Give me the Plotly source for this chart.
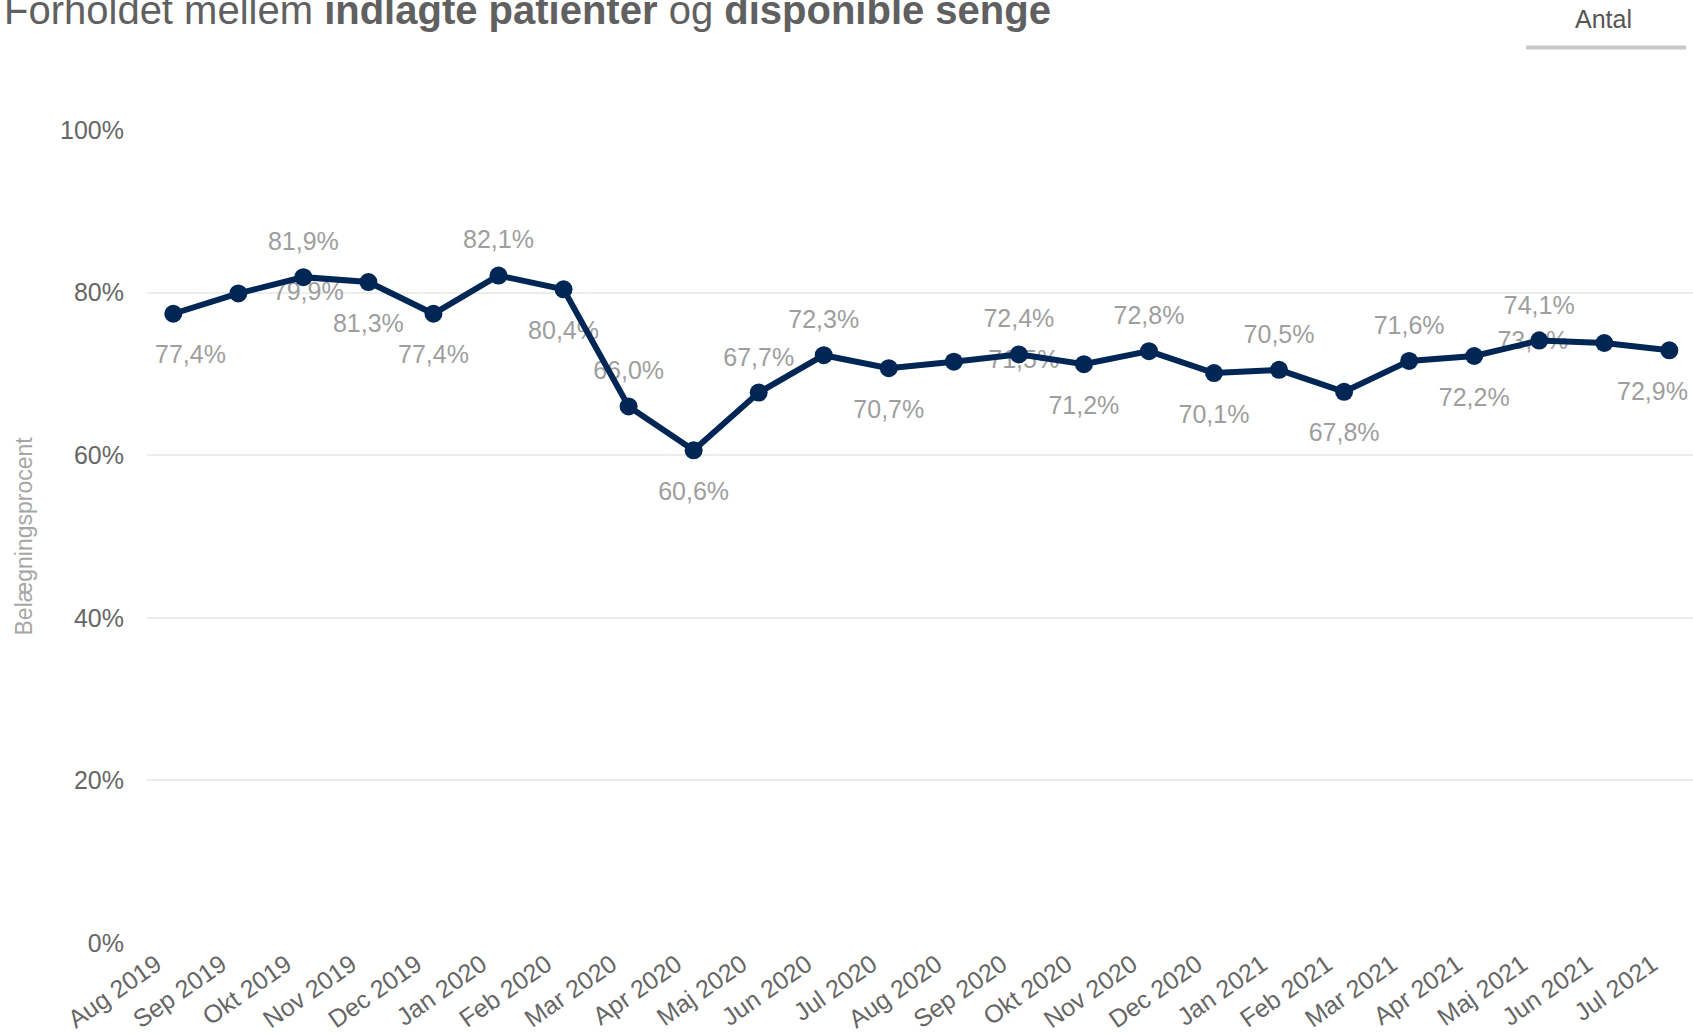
import plotly.graph_objects as go

LINE_COLOUR = '#002655'
LABEL_COLOUR = '#9e9e9e'
TICK_COLOUR = '#666666'
GRID_COLOUR = '#ececec'
FONT = 'Liberation Sans, Arial, sans-serif'

# Data
MONTHS = ["Aug 2019", "Sep 2019", "Okt 2019", "Nov 2019", "Dec 2019", "Jan 2020",
          "Feb 2020", "Mar 2020", "Apr 2020", "Maj 2020", "Jun 2020", "Jul 2020",
          "Aug 2020", "Sep 2020", "Okt 2020", "Nov 2020", "Dec 2020", "Jan 2021",
          "Feb 2021", "Mar 2021", "Apr 2021", "Maj 2021", "Jun 2021", "Jul 2021"]
OCCUPANCY = [77.4, 79.9, 81.9, 81.3, 77.4, 82.1, 80.4, 66.0, 60.6, 67.7, 72.3, 70.7,
             71.5, 72.4, 71.2, 72.8, 70.1, 70.5, 67.8, 71.6, 72.2, 74.1, 73.8, 72.9]
Y_TICKS = [0, 20, 40, 60, 80, 100]
Y_TICK_TEXT = ["0%", "20%", "40%", "60%", "80%", "100%"]

# where each data label sits relative to its point (layout only)
LABEL_SIDE = ["edge", "right", "top", "bottom", "bottom", "top", "bottom", "top",
              "bottom", "top", "top", "bottom", "right", "top", "bottom", "top",
              "bottom", "top", "bottom", "top", "bottom", "top", "left", "edge"]
SIDE_POSITION = {"top": "top center", "bottom": "bottom center",
                 "right": "middle right", "left": "middle left", "edge": "bottom center"}
SIDE_SIZE = {"top": 31.7, "bottom": 47.6, "right": 53.6, "left": 56, "edge": 0}


def fmt(v):
    return f"{v:.1f}%".replace('.', ',')


labels = [fmt(v) if s != "edge" else "" for v, s in zip(OCCUPANCY, LABEL_SIDE)]
# trailing spaces pull the rotated month labels a bit left of their tick
x_tick_text = [m + "\u00a0\u00a0\u00a0" for m in MONTHS]

fig = go.Figure()

# labels first so the line is drawn over them
fig.add_trace(go.Scatter(
    x=MONTHS, y=OCCUPANCY, mode='markers+text', text=labels,
    textposition=[SIDE_POSITION[s] for s in LABEL_SIDE],
    textfont={"size": 25, "color": LABEL_COLOUR, "family": FONT},
    marker={"size": [SIDE_SIZE[s] for s in LABEL_SIDE], "color": 'rgba(0,0,0,0)'},
    cliponaxis=False, hoverinfo='skip', showlegend=False))

fig.add_trace(go.Scatter(
    x=MONTHS, y=OCCUPANCY, mode='lines+markers',
    line={"color": LINE_COLOUR, "width": 6},
    marker={"size": 18, "color": LINE_COLOUR},
    cliponaxis=False, showlegend=False))

# first and last label get nudged inwards
for i, shift in [(0, 17), (len(MONTHS) - 1, -17)]:
    fig.add_annotation(x=MONTHS[i], y=OCCUPANCY[i], text=fmt(OCCUPANCY[i]),
                       showarrow=False, xshift=shift, yshift=-40.5, yanchor='middle',
                       font={"size": 25, "color": LABEL_COLOUR, "family": FONT})

# title (partly above the page edge, as in the original)
fig.add_annotation(xref='paper', yref='paper', x=0, y=1, xshift=-145, yshift=95.5,
                   xanchor='left', yanchor='bottom', showarrow=False,
                   text="Forholdet mellem <b>indlagte patienter</b> og <b>disponible senge</b>",
                   font={"size": 40, "color": '#606060', "family": FONT})

# "Antal" tab
fig.add_annotation(xref='paper', yref='paper', x=0.9418, y=1.136, showarrow=False,
                   text="Antal", xanchor='center', yanchor='middle',
                   font={"size": 25, "color": '#555555', "family": FONT})
fig.add_shape(type='line', xref='paper', yref='paper', x0=0.892, x1=0.9955,
              y0=1.1015, y1=1.1015, line={"color": '#c8c8c8', "width": 4})

# y axis title
fig.add_annotation(xref='paper', yref='paper', x=0, y=0.5, xshift=-124,
                   text="Belægningsprocent", textangle=-90, showarrow=False,
                   xanchor='center', yanchor='middle',
                   font={"size": 23, "color": '#a6a6a6', "family": FONT})

fig.update_layout(
    width=1693, height=1034,
    margin={"l": 147, "r": 0, "t": 130, "b": 91, "pad": 0},
    plot_bgcolor='white', paper_bgcolor='white',
    font={"family": FONT},
    showlegend=False, hovermode=False,
)
fig.update_xaxes(type='category', range=[-0.404, 23.364], showgrid=False,
                 tickvals=MONTHS, ticktext=x_tick_text, automargin=False,
                 zeroline=False, showline=False, ticks='', tickangle=-35,
                 ticklabelstandoff=-11,
                 tickfont={"size": 25, "color": TICK_COLOUR, "family": FONT})
fig.update_yaxes(range=[0, 100], tickvals=Y_TICKS, ticktext=Y_TICK_TEXT,
                 showgrid=True, gridcolor=GRID_COLOUR, gridwidth=2, automargin=False,
                 zeroline=False, showline=False, ticks='', ticklabelstandoff=22,
                 tickfont={"size": 25, "color": TICK_COLOUR, "family": FONT})

fig.write_html("out.html", config={"displayModeBar": False},
               post_script="document.body.style.margin='0';document.body.style.overflow='hidden';")
